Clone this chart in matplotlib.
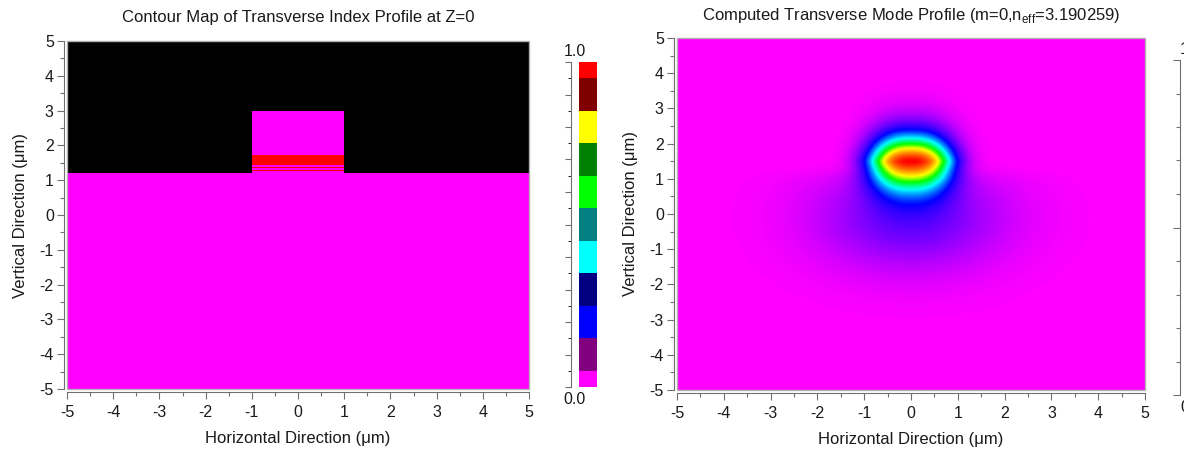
import matplotlib
matplotlib.use("Agg")
import matplotlib.pyplot as plt
import numpy as np
from matplotlib.colors import ListedColormap, BoundaryNorm, LinearSegmentedColormap, Normalize
from matplotlib.patches import Rectangle
import matplotlib.cm as cm

plt.rcParams['font.family'] = ['Liberation Sans', 'DejaVu Sans']
plt.rcParams['axes.unicode_minus'] = False

# ---- index profile (left) ----
# contour palette, bottom (0.0) to top (1.0)
contour_colors = ['#ff00ff', '#800080', '#0000ff', '#000080', '#00ffff', '#008080',
                  '#00ff00', '#008000', '#ffff00', '#800000', '#ff0000']
contour_bounds = [0.0, 0.05, 0.15, 0.25, 0.35, 0.45, 0.55, 0.65, 0.75, 0.85, 0.95, 1.0]

# x edges of the ridge, y edges of layers, normalized index per layer
x_edges = [-5.0, -1.0, 1.0, 5.0]
y_edges = [-5.0, 1.2, 1.26, 1.30, 1.34, 1.38, 1.43, 1.72, 3.0, 5.0]
air_value = -1.0
ridge_values = [0.0, 0.0, 1.0, 0.0, 1.0, 0.0, 1.0, 0.0, air_value]   # |x| < 1
clad_values = [0.0, air_value, air_value, air_value, air_value, air_value,
               air_value, air_value, air_value]                      # |x| > 1

# ---- mode profile (right) ----
mode_center = [0.0, 1.5]
mode_axes = [0.87, 0.73]      # x, y scale of core
mode_powers = [2.5, 1.5]
tail_center = [0.0, -0.1]
tail_axes = [2.0, 1.5]
tail_level = 0.15
substrate_top = 1.2

x_ticks = [-5, -4, -3, -2, -1, 0, 1, 2, 3, 4, 5]
y_ticks = [-5, -4, -3, -2, -1, 0, 1, 2, 3, 4, 5]

W, H = 1184, 451
fig = plt.figure(figsize=(W / 100, H / 100), dpi=100)

tick_col = '#707070'
txt_col = '#1a1a1a'
fs_tick = 11.5
fs_lab = 12


def fax(x0, y0, x1, y1):
    return fig.add_axes([x0 / W, 1 - y1 / H, (x1 - x0) / W, (y1 - y0) / H])


def style(ax):
    for s in ['top', 'right']:
        ax.spines[s].set_visible(False)
    for s in ['left', 'bottom']:
        ax.spines[s].set_position(('outward', 2.5))
        ax.spines[s].set_color(tick_col)
        ax.spines[s].set_linewidth(0.8)
    ax.set_xlim(-5, 5)
    ax.set_ylim(-5, 5)
    ax.set_xticks(x_ticks)
    ax.set_yticks(y_ticks)
    ax.set_xticks(np.arange(-4.5, 5, 1.0), minor=True)
    ax.set_yticks(np.arange(-4.5, 5, 1.0), minor=True)
    ax.tick_params(which='major', length=5, width=0.8, color=tick_col,
                   labelsize=fs_tick, labelcolor=txt_col, pad=2)
    ax.tick_params(axis='x', which='major', pad=4)
    ax.tick_params(which='minor', length=3, width=0.8, color=tick_col)
    ax.add_patch(Rectangle((0, 0), 1, 1, transform=ax.transAxes, fill=False,
                           edgecolor='#b0b0b0', lw=1.0, clip_on=False, zorder=5))
    ax.set_xlabel('Horizontal Direction (μm)', fontsize=fs_lab, color=txt_col, labelpad=8)
    ax.set_ylabel('Vertical Direction (μm)', fontsize=fs_lab, color=txt_col, labelpad=8)


# left panel
ax1 = fax(67, 41, 529, 389)
Z = np.array([clad_values, ridge_values, clad_values]).T
cmap1 = ListedColormap(contour_colors)
cmap1.set_under('black')
norm1 = BoundaryNorm(contour_bounds, cmap1.N)
ax1.pcolormesh(x_edges, y_edges, Z, cmap=cmap1, norm=norm1, shading='flat')
style(ax1)
ax1.set_title('Contour Map of Transverse Index Profile at Z=0', fontsize=fs_lab,
              color=txt_col, pad=14)

cax1 = fax(579, 62, 597, 387)
cb1 = fig.colorbar(cm.ScalarMappable(norm=norm1, cmap=cmap1), cax=cax1,
                   spacing='proportional')
cb1.outline.set_visible(False)
cax1.yaxis.set_ticks_position('left')
cax1.set_yticks(np.arange(0, 1.01, 0.1))
cax1.set_yticklabels([])
cax1.spines['left'].set_visible(True)
cax1.spines['left'].set_position(('outward', 5.5))
cax1.spines['left'].set_color(tick_col)
cax1.tick_params(length=4, width=0.8, color=tick_col)
cax1.text(-0.25, 1.01, '1.0', transform=cax1.transAxes, ha='center', va='bottom',
          fontsize=fs_tick, color=txt_col)
cax1.text(-0.25, -0.015, '0.0', transform=cax1.transAxes, ha='center', va='top',
          fontsize=fs_tick, color=txt_col)

# right panel
ax2 = fax(677, 38, 1145, 390)
xs = np.linspace(-5, 5, 601)
ys = np.linspace(-5, 5, 601)
X, Y = np.meshgrid(xs, ys)
core = np.exp(-((np.abs(X - mode_center[0]) / mode_axes[0]) ** mode_powers[0]
                + (np.abs(Y - mode_center[1]) / mode_axes[1]) ** mode_powers[1]))
tail = tail_level * np.exp(-(((X - tail_center[0]) / tail_axes[0]) ** 2
                             + ((Y - tail_center[1]) / tail_axes[1]) ** 2))
tail *= 1 / (1 + np.exp((Y - substrate_top) / 0.12))
field = np.clip(core + tail, 0, 1)

mode_cmap = LinearSegmentedColormap.from_list('mode', [
    (0.0, '#ff00ff'), (0.12, '#8000ff'), (0.25, '#0000ff'), (0.42, '#00ffff'),
    (0.57, '#00ff00'), (0.7, '#ffff00'), (0.84, '#ff8000'), (1.0, '#ff0000')])
ax2.imshow(field, extent=[-5, 5, -5, 5], origin='lower', cmap=mode_cmap,
           vmin=0, vmax=1, aspect='auto', interpolation='bilinear')
style(ax2)
ax2.set_title(r'Computed Transverse Mode Profile (m=0,n$_\mathregular{eff}$=3.190259)',
              fontsize=fs_lab, color=txt_col, pad=13)

cax2 = fax(1188, 60, 1206, 395)
cb2 = fig.colorbar(cm.ScalarMappable(norm=Normalize(0, 1), cmap=mode_cmap), cax=cax2)
cb2.outline.set_visible(False)
cax2.yaxis.set_ticks_position('left')
cax2.set_yticks([0, 0.5, 1.0])
cax2.set_yticks(np.arange(0.1, 1.0, 0.1), minor=True)
cax2.set_yticklabels([])
cax2.spines['left'].set_visible(True)
cax2.spines['left'].set_position(('outward', 5.5))
cax2.spines['left'].set_color(tick_col)
cax2.tick_params(which='major', length=5, width=0.8, color=tick_col)
cax2.tick_params(which='minor', length=3, width=0.8, color=tick_col)
cax2.text(-0.2, 1.01, '1', transform=cax2.transAxes, ha='center', va='bottom',
          fontsize=fs_tick, color=txt_col)
cax2.text(-0.2, -0.015, '0', transform=cax2.transAxes, ha='center', va='top',
          fontsize=fs_tick, color=txt_col)

fig.savefig('out.png', dpi=100)
